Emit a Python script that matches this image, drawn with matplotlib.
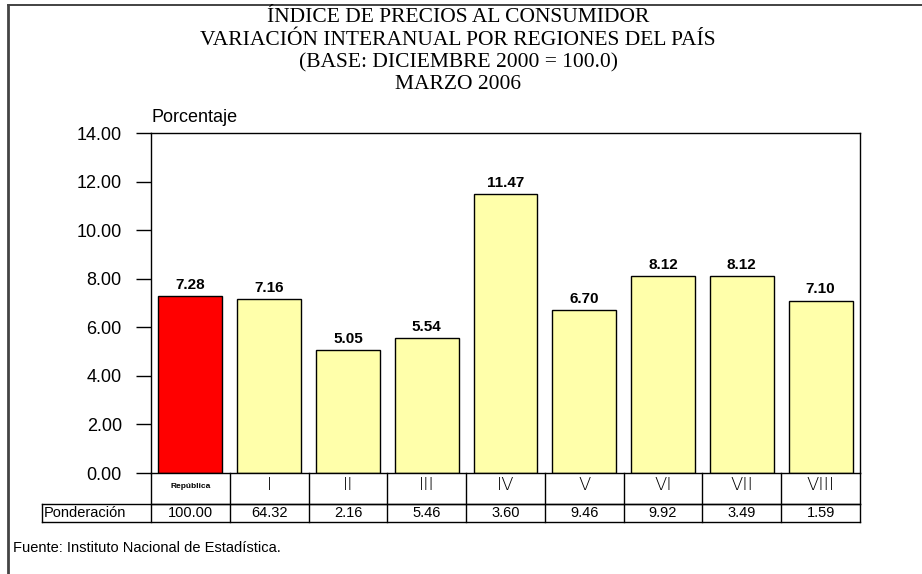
import matplotlib
matplotlib.use('Agg')
import matplotlib.pyplot as plt
import matplotlib.transforms as mtransforms
from matplotlib.lines import Line2D

# data
categories = ['República', 'I', 'II', 'III', 'IV', 'V', 'VI', 'VII', 'VIII']
variacion = [7.28, 7.16, 5.05, 5.54, 11.47, 6.70, 8.12, 8.12, 7.10]
ponderacion = [100.00, 64.32, 2.16, 5.46, 3.60, 9.46, 9.92, 3.49, 1.59]
bar_colors = ['#ff0000'] + ['#ffffaa'] * 8

W, H = 922, 574
fig = plt.figure(figsize=(W / 100, H / 100), dpi=100)

def fx(px):
    return px / W

def fy(py):
    return 1 - py / H

# outer frame (top and left only)
fig.add_artist(Line2D([fx(8), 1], [fy(5), fy(5)], color='#222222', lw=1.2))
fig.add_artist(Line2D([fx(8), fx(8)], [fy(5), 0], color='#444444', lw=2.0))

# title
title_lines = ['ÍNDICE DE PRECIOS AL CONSUMIDOR',
               'VARIACIÓN INTERANUAL POR REGIONES DEL PAÍS',
               '(BASE: DICIEMBRE 2000 = 100.0)',
               'MARZO 2006']
for k, t in enumerate(title_lines):
    fig.text(fx(458), fy(18 + k * 22.3), t, ha='center', va='center',
             family='Liberation Serif', fontsize=15.5)

# plot area
left, right, top, bottom = 151, 860, 133, 473
ax = fig.add_axes([fx(left), fy(bottom), fx(right - left), (bottom - top) / H])
x = list(range(len(categories)))
bars = ax.bar(x, variacion, width=0.81, color=bar_colors, edgecolor='black', linewidth=1.0, zorder=2)
ax.set_xlim(-0.5, len(categories) - 0.5)
ax.set_ylim(0, 14)
ax.set_yticks([0, 2, 4, 6, 8, 10, 12, 14])
ax.set_yticklabels([f'{v:.2f}' for v in [0, 2, 4, 6, 8, 10, 12, 14]],
                   family='Liberation Sans', fontsize=13)
ax.tick_params(axis='y', length=11, width=1, pad=10, color='black')
ax.set_xticks([])
for s in ax.spines.values():
    s.set_color('black')
    s.set_linewidth(1.0)

for b, v in zip(bars, variacion):
    ax.annotate(f'{v:.2f}', xy=(b.get_x() + b.get_width() / 2, v), xytext=(0, 3),
                textcoords='offset points', ha='center', va='bottom',
                family='Liberation Sans', fontsize=11, fontweight='bold')

fig.text(fx(left), fy(118), 'Porcentaje', ha='left', va='center',
         family='Liberation Sans', fontsize=13)

# table under the plot
trans = mtransforms.blended_transform_factory(ax.transData, ax.transAxes)
h_px = bottom - top
r1 = -(504 - bottom) / h_px
r2 = -(522 - bottom) / h_px
n = len(categories)
for i in range(n + 1):
    xb = i - 0.5
    ax.add_line(Line2D([xb, xb], [0, r2], transform=trans, color='black', lw=1.0, clip_on=False))
ax.add_line(Line2D([-0.5, n - 0.5], [r1, r1], transform=trans, color='black', lw=1.0, clip_on=False))
# label column for Ponderación
fig.add_artist(Line2D([fx(42), fx(right)], [fy(504), fy(504)], color='black', lw=1.0))
fig.add_artist(Line2D([fx(42), fx(right)], [fy(522), fy(522)], color='black', lw=1.0))
fig.add_artist(Line2D([fx(42), fx(42)], [fy(504), fy(522)], color='black', lw=1.0))
fig.text(fx(44), fy(513), 'Ponderación', ha='left', va='center',
         family='Liberation Sans', fontsize=10.5)

for i, (c, p) in enumerate(zip(categories, ponderacion)):
    if i == 0:
        ax.text(i, r1 * 0.45, c, transform=trans, ha='center', va='center',
                family='Liberation Sans', fontsize=6, fontweight='bold', clip_on=False)
    else:
        ax.text(i, r1 * 0.40, c, transform=trans, ha='center', va='center',
                family='DejaVu Sans', fontsize=13, fontweight='light', clip_on=False)
    ax.text(i, (r1 + r2) / 2, f'{p:.2f}', transform=trans, ha='center', va='center',
            family='Liberation Sans', fontsize=10.5, clip_on=False)

fig.text(fx(13), fy(548), 'Fuente: Instituto Nacional de Estadística.', ha='left', va='center',
         family='Liberation Sans', fontsize=10.5)

plt.savefig('out.png', dpi=100)
plt.close()
